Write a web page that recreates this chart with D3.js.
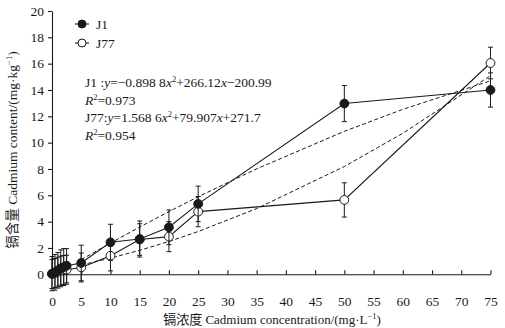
<!DOCTYPE html>
<html><head><meta charset="utf-8">
<script src="https://cdn.jsdelivr.net/npm/d3@7"></script>
<style>
body{margin:0;background:#fff;}
svg{display:block;font-family:"Liberation Serif","Noto Sans CJK SC",serif;}
</style></head>
<body><div id="chart"></div>
<script>
const concentrations = [0, 0.5, 1, 1.5, 2, 2.5, 5, 10, 15, 20, 25, 50, 75];
const j1Values  = [0.05, 0.15, 0.3, 0.45, 0.55, 0.65, 0.86, 2.43, 2.68, 3.57, 5.35, 12.97, 14.0];
const j1Errors  = [1.3, 1.35, 1.35, 1.4, 1.4, 1.3, 1.35, 1.37, 1.37, 1.32, 1.35, 1.37, 1.3];
const j77Values = [0.02, 0.1, 0.2, 0.28, 0.33, 0.35, 0.52, 1.41, 2.64, 2.86, 4.76, 5.65, 16.05];
const j77Errors = [1.1, 1.1, 1.1, 1.1, 1.1, 1.1, 1.1, 1.15, 1.2, 1.14, 1.15, 1.3, 1.2];
const fitX      = [5, 10, 15, 20, 25, 35, 50, 60, 75];
const j1Fit     = [1.11, 2.37, 3.59, 4.76, 5.89, 8.01, 10.86, 12.53, 14.70];
const j77Fit    = [0.71, 1.23, 1.82, 2.49, 3.25, 4.99, 8.19, 10.71, 15.09];
const xTicks = [0,5,10,15,20,25,30,35,40,45,50,55,60,65,70,75];
const yTicks = [0,2,4,6,8,10,12,14,16,18,20];

const W = 505, H = 328;
const svg = d3.select("#chart").append("svg").attr("width", W).attr("height", H);
const x = d3.scaleLinear().domain([0, 75]).range([52, 490.5]);
const y = d3.scaleLinear().domain([0, 20]).range([274.3, 11]);
const ink = "#1a1a1a";

// axes
const xAxis = svg.append("g").attr("transform", `translate(0,${y(0)})`)
  .call(d3.axisBottom(x).tickValues(xTicks).tickSizeInner(-4).tickSizeOuter(0).tickPadding(22));
const yAxis = svg.append("g").attr("transform", `translate(${x(0)},0)`)
  .call(d3.axisLeft(y).tickValues(yTicks).tickSizeInner(4).tickSizeOuter(0).tickPadding(4));
[xAxis, yAxis].forEach(a => {
  a.attr("font-family", "Liberation Serif");
  a.selectAll("path,line").attr("stroke", ink).attr("stroke-width", 1.1);
  a.selectAll("text").attr("fill", ink).attr("font-size", 13.5).attr("font-family", "Liberation Serif");
});

// fit lines
const line = d3.line().x(d => x(d[0])).y(d => y(d[1]));
[j1Fit, j77Fit].forEach(f => {
  svg.append("path").datum(fitX.map((v, i) => [v, f[i]]))
    .attr("d", line).attr("fill", "none").attr("stroke", ink)
    .attr("stroke-width", 1).attr("stroke-dasharray", "4,2.5");
});

function drawSeries(vals, errs, filled) {
  const g = svg.append("g");
  const pts = concentrations.map((c, i) => [c, vals[i], errs[i]]);
  g.append("path").datum(pts).attr("d", line).attr("fill", "none")
    .attr("stroke", ink).attr("stroke-width", 1.1);
  const eb = g.selectAll(".eb").data(pts).enter().append("g");
  eb.append("line").attr("x1", d => x(d[0])).attr("x2", d => x(d[0]))
    .attr("y1", d => y(d[1] - d[2])).attr("y2", d => y(d[1] + d[2]))
    .attr("stroke", ink).attr("stroke-width", 1);
  [-1, 1].forEach(s => {
    eb.append("line").attr("x1", d => x(d[0]) - 2.5).attr("x2", d => x(d[0]) + 2.5)
      .attr("y1", d => y(d[1] + s * d[2])).attr("y2", d => y(d[1] + s * d[2]))
      .attr("stroke", ink).attr("stroke-width", 1);
  });
  g.selectAll("circle").data(pts).enter().append("circle")
    .attr("cx", d => x(d[0])).attr("cy", d => y(d[1])).attr("r", 4.4)
    .attr("fill", filled ? ink : "#fff").attr("stroke", ink).attr("stroke-width", 1);
}
drawSeries(j77Values, j77Errors, false);
drawSeries(j1Values, j1Errors, true);

// legend
const legend = [["J1", true, 24], ["J77", false, 43]];
legend.forEach(([name, filled, ly]) => {
  svg.append("line").attr("x1", 75).attr("x2", 89).attr("y1", ly).attr("y2", ly)
    .attr("stroke", ink).attr("stroke-width", 1.1);
  svg.append("circle").attr("cx", 82).attr("cy", ly).attr("r", 4)
    .attr("fill", filled ? ink : "#fff").attr("stroke", ink);
  svg.append("text").attr("x", 96).attr("y", ly + 4.5).attr("font-size", 13.5)
    .attr("fill", ink).text(name);
});

// equations
function rich(tx, ty, parts) {
  const t = svg.append("text").attr("x", tx).attr("y", ty).attr("font-size", 13.5).attr("fill", ink);
  parts.forEach(p => {
    const s = t.append("tspan").text(p.t);
    if (p.i) s.attr("font-style", "italic");
    if (p.sup) s.attr("font-size", 8.5).attr("dy", -5);
    if (p.back) s.attr("dy", 5);
  });
}
rich(85, 87, [{t:"J1 :"},{t:"y",i:1},{t:"=−0.898 8"},{t:"x",i:1},{t:"2",sup:1},{t:"+266.12",back:1},{t:"x",i:1},{t:"−200.99"}]);
rich(85, 105, [{t:"R",i:1},{t:"2",sup:1},{t:"=0.973",back:1}]);
rich(85, 122, [{t:"J77:"},{t:"y",i:1},{t:"=1.568 6"},{t:"x",i:1},{t:"2",sup:1},{t:"+79.907",back:1},{t:"x",i:1},{t:"+271.7"}]);
rich(85, 140, [{t:"R",i:1},{t:"2",sup:1},{t:"=0.954",back:1}]);

// axis titles
const xt = svg.append("text").attr("x", 272).attr("y", 324).attr("text-anchor", "middle")
  .attr("font-size", 13).attr("fill", ink);
xt.append("tspan").text("镉浓度 Cadmium concentration/(mg·L");
xt.append("tspan").text("−1").attr("font-size", 8.5).attr("dy", -5);
xt.append("tspan").text(")").attr("dy", 5);

const yt = svg.append("text").attr("transform", "translate(17,150) rotate(-90)")
  .attr("text-anchor", "middle").attr("font-size", 13.5).attr("fill", ink);
yt.append("tspan").text("镉含量 Cadmium content/(mg·kg");
yt.append("tspan").text("−1").attr("font-size", 8.5).attr("dy", -5);
yt.append("tspan").text(")").attr("dy", 5);
</script></body></html>
